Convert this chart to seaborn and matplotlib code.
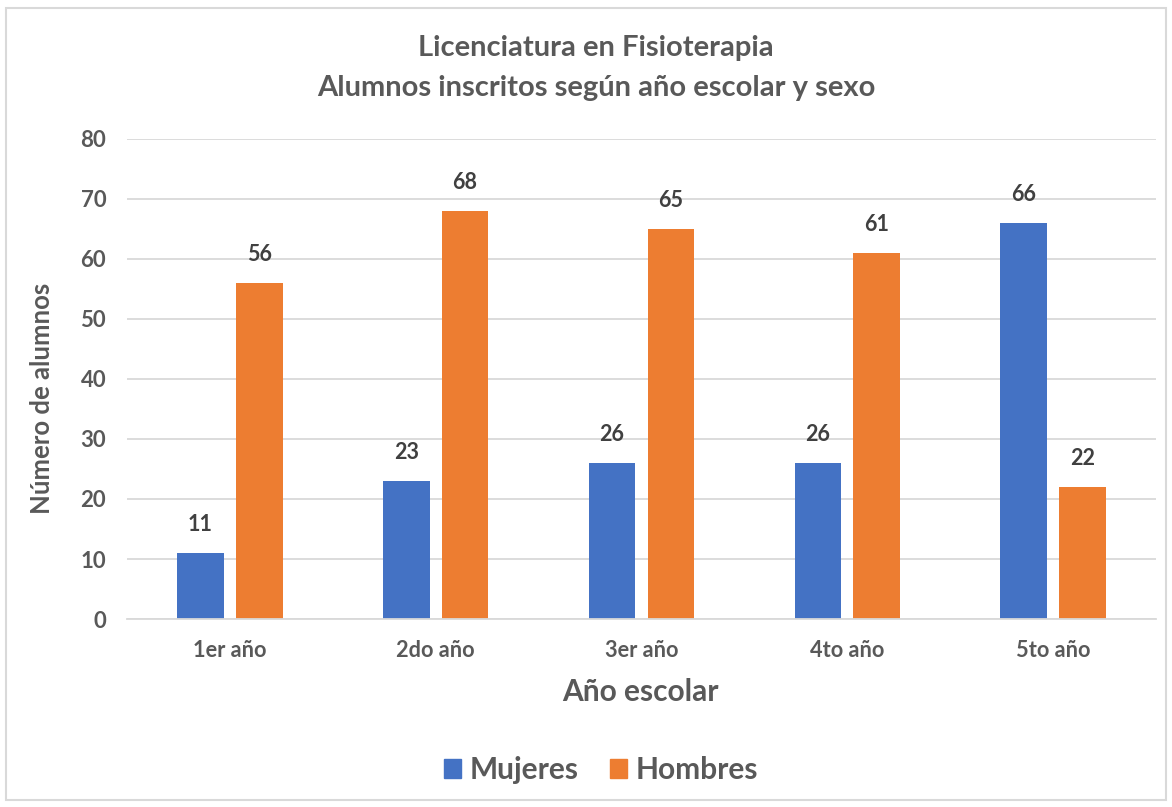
import matplotlib
matplotlib.use("Agg")
import matplotlib.pyplot as plt
import seaborn as sns
import pandas as pd
from matplotlib.patches import Rectangle

categories = ["1er año", "2do año", "3er año", "4to año", "5to año"]
mujeres = [11, 23, 26, 26, 66]
hombres = [56, 68, 65, 61, 22]
series_names = ["Mujeres", "Hombres"]
colors = ["#4472C4", "#ED7D31"]

df = pd.DataFrame({
    "cat": categories * 2,
    "val": mujeres + hombres,
    "sexo": [series_names[0]] * len(categories) + [series_names[1]] * len(categories),
})

sns.set_theme(style="white")
plt.rcParams['font.family'] = ['Lato', 'DejaVu Sans']
text_col = "#595959"

W, H = 1172, 807
fig = plt.figure(figsize=(11.72, 8.07), dpi=100)
ax = fig.add_axes([127/W, 1 - 619/H, (1156-127)/W, (619-139)/H])

sns.barplot(data=df, x="cat", y="val", hue="sexo", palette=colors,
            width=0.571, gap=0.205, ax=ax, legend=False, saturation=1, linewidth=0)

ax.set_ylim(0, 80)
ax.set_yticks(range(0, 81, 10))
ax.set_xlim(-0.5, 4.5)
ax.yaxis.grid(True, color="#D9D9D9", linewidth=1.3)
ax.set_axisbelow(True)
for s in ["top", "right", "left"]:
    ax.spines[s].set_visible(False)
ax.spines["bottom"].set_color("#D9D9D9")
ax.spines["bottom"].set_linewidth(1.3)
ax.tick_params(axis="both", length=0, labelcolor=text_col)
ax.tick_params(axis="x", labelsize=15.7, pad=15)
ax.tick_params(axis="y", labelsize=16, pad=15)
for lab in ax.get_xticklabels() + ax.get_yticklabels():
    lab.set_fontweight("bold")

ax.set_xlabel("Año escolar", fontsize=21.5, fontweight="bold", color=text_col)
ax.set_ylabel("Número de alumnos", fontsize=18.5, fontweight="bold", color=text_col)
ax.xaxis.set_label_coords((640 - 127) / (1156 - 127), -(692 - 619) / (619 - 139), transform=ax.transAxes)
ax.xaxis.label.set_va("center")
ax.yaxis.set_label_coords(-(127 - 42) / (1156 - 127), (619 - 398) / (619 - 139), transform=ax.transAxes)
ax.yaxis.label.set_va("center")

for cont in ax.containers:
    ax.bar_label(cont, fmt="%d", padding=13, fontsize=15.5, fontweight="bold", color="#404040")

fig.text(596/W, 1 - 48/H, "Licenciatura en Fisioterapia", ha="center", va="center",
         fontsize=21, fontweight="bold", color=text_col)
fig.text(596/W, 1 - 88/H, "Alumnos inscritos según año escolar y sexo", ha="center", va="center",
         fontsize=21, fontweight="bold", color=text_col)

handles = [Rectangle((0, 0), 1, 1, color=c) for c in colors]
fig.legend(handles, series_names, loc="center", bbox_to_anchor=(601/W, 1 - 770/H),
           ncol=2, frameon=False, handlelength=0.57, handleheight=0.57,
           columnspacing=1.04, handletextpad=0.3, prop={"weight": "bold", "size": 21.5},
           labelcolor=text_col)

fig.add_artist(Rectangle((6/W, 1 - 800/H), 1160/W, 792/H,
                         transform=fig.transFigure, fill=False, edgecolor="#D9D9D9", linewidth=1.5))

fig.savefig("out.png", dpi=100)
